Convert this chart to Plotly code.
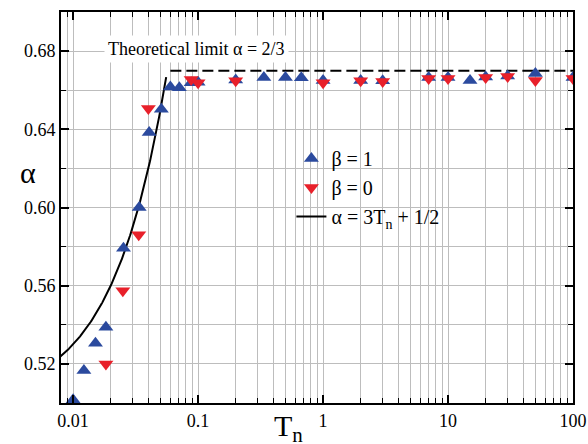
import numpy as np
import plotly.graph_objects as go

# beta = 1 (blue up-triangles)
t_b1 = [0.01, 0.0122, 0.0151, 0.0183, 0.0253, 0.0338, 0.0406, 0.0508, 0.060, 0.0708,
        0.088, 0.10, 0.20, 0.336, 0.50, 0.67, 1.0, 2.0, 3.0, 7.0, 10.0, 15.0, 20.0, 30.0, 50.0, 100.0]
a_b1 = [0.5016, 0.5166, 0.5306, 0.5388, 0.5791, 0.600, 0.6383, 0.6502, 0.6617, 0.6612,
        0.6638, 0.6641, 0.6652, 0.6665, 0.6665, 0.6664, 0.6650, 0.6650, 0.6648, 0.6665, 0.6665,
        0.6650, 0.6668, 0.6672, 0.6686, 0.6665]

# beta = 0 (red down-triangles)
t_b0 = [0.0183, 0.0250, 0.0335, 0.040, 0.088, 0.10, 0.20, 1.0, 2.0, 3.0, 7.0, 10.0, 20.0, 30.0, 50.0, 100.0]
a_b0 = [0.520, 0.5574, 0.586, 0.6507, 0.6655, 0.6638, 0.6648, 0.6638, 0.6648, 0.6645, 0.666, 0.666,
        0.6665, 0.667, 0.665, 0.666]

# theoretical limit (dashed)
t_lim = [0.06, 100.0]
a_lim = [0.670, 0.670]

# fit alpha = 3 Tn + 1/2
t_fit = np.logspace(np.log10(0.0075), np.log10(1 / 18), 200)
a_fit = 3 * t_fit + 0.5

xticks = [0.01, 0.1, 1, 10, 100]
xticklabels = ["0.01", "0.1", "1", "10", "100"]
yticks = [0.52, 0.56, 0.60, 0.64, 0.68]
yticklabels = ["0.52", "0.56", "0.60", "0.64", "0.68"]

FONT = "Liberation Serif"
BLUE = "#2b4a9e"
RED = "#e8202a"
GRID = "#bdbdbd"

fig = go.Figure()
fig.add_trace(go.Scatter(x=t_fit, y=a_fit, mode="lines", line=dict(color="black", width=2),
                         name="α = 3T<sub>n</sub> + 1/2", legendrank=3))
fig.add_trace(go.Scatter(x=t_lim, y=a_lim, mode="lines",
                         line=dict(color="black", width=2, dash="11px,5px"),
                         showlegend=False))
fig.add_trace(go.Scatter(x=t_b1, y=a_b1, mode="markers", name="β = 1", legendrank=1,
                         marker=dict(symbol="triangle-up", size=13, color=BLUE)))
fig.add_trace(go.Scatter(x=t_b0, y=a_b0, mode="markers", name="β = 0", legendrank=2,
                         marker=dict(symbol="triangle-down", size=13, color=RED)))

minor_x = [m * 10 ** e for e in range(-3, 3) for m in range(2, 10)]

fig.update_xaxes(type="log", range=[np.log10(0.008), np.log10(100)],
                 tickvals=xticks, ticktext=xticklabels,
                 ticks="inside", ticklen=8, tickwidth=1.5, tickcolor="black",
                 showline=True, linecolor="black", linewidth=2, mirror="ticks",
                 showgrid=True, gridcolor=GRID, gridwidth=1,
                 minor=dict(tickvals=minor_x, ticks="inside", ticklen=5, tickwidth=1.2,
                            tickcolor="black", showgrid=True, gridcolor=GRID, gridwidth=1),
                 tickfont=dict(family=FONT, size=18, color="black"),
                 automargin=False, zeroline=False)
fig.update_yaxes(range=[0.50, 0.70], tickvals=yticks, ticktext=yticklabels,
                 ticks="inside", ticklen=8, tickwidth=1.5, tickcolor="black",
                 showline=True, linecolor="black", linewidth=2, mirror="ticks",
                 showgrid=True, gridcolor=GRID, gridwidth=1,
                 minor=dict(tickvals=[0.50, 0.54, 0.58, 0.62, 0.66, 0.70], ticks="inside", ticklen=5,
                            tickwidth=1.2, tickcolor="black", showgrid=True, gridcolor=GRID,
                            gridwidth=1),
                 tickfont=dict(family=FONT, size=18, color="black"),
                 automargin=False, zeroline=False)

fig.add_annotation(x=np.log10(0.098), y=0.6812, xref="x", yref="y", text="Theoretical limit α = 2/3",
                   showarrow=False, font=dict(family=FONT, size=18, color="black"),
                   bgcolor="white", borderpad=3)
# axis titles
fig.add_annotation(x=28, y=444 - 172, xref="paper", yref="paper", text="α", showarrow=False,
                   font=dict(family=FONT, size=30, color="black"))
fig.add_annotation(x=288, y=444 - 428, xref="paper", yref="paper", text="T<sub>n</sub>",
                   showarrow=False, font=dict(family=FONT, size=30, color="black"))

fig.update_layout(width=588, height=444, margin=dict(l=61, r=15, t=12, b=41),
                  paper_bgcolor="white", plot_bgcolor="white",
                  legend=dict(x=0.45, y=0.675, xanchor="left", yanchor="top",
                              bgcolor="rgba(0,0,0,0)", font=dict(family=FONT, size=20, color="black"),
                              tracegroupgap=0),
                  font=dict(family=FONT))

# convert pixel positions of title annotations to paper coordinates
pw, ph = 588 - 61 - 15, 444 - 12 - 41
for ann in fig.layout.annotations[1:]:
    ann.x = (ann.x - 61) / pw
    ann.y = (ann.y - 41) / ph
    ann.xanchor = "center"
    ann.yanchor = "middle"

fig.write_html("out.html", config={"displayModeBar": False},
               post_script="document.body.style.margin='0px';")
